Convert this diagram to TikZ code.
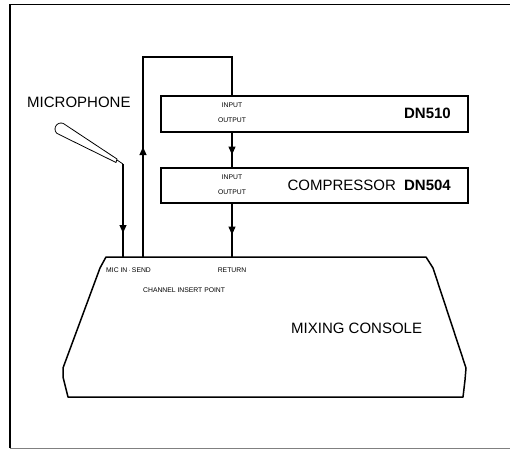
\documentclass[tikz,border=0pt]{standalone}
\usepackage{fontspec}
\setmainfont{Liberation Sans}
\usetikzlibrary{arrows.meta,decorations.markings,calc}
\begin{document}
\begin{tikzpicture}[x=1pt,y=-1pt,
  unitbox/.style={draw,line width=1.6pt,minimum width=307pt,inner sep=0pt,anchor=north west},
  big/.style={font=\fontsize{15}{17}\selectfont,inner sep=0pt},
  small/.style={font=\fontsize{6.8}{8}\selectfont,inner sep=0pt},
  wire/.style={line width=1.1pt},
  arrowat/.style={postaction={decorate,decoration={markings,mark=at position #1 with {\arrow{Triangle[width=7pt,length=8pt]}}}}}
]
\useasboundingbox (0,0) rectangle (510,449);
% frame
\draw[line width=1.8pt] (10,448) -- (10,4.5) -- (510,4.5);
\draw[line width=0.8pt,gray] (10,448) -- (510,448);

% units
\node[unitbox,minimum height=36pt] (dn510) at (160,95) {};
\node[unitbox,minimum height=35pt] (dn504) at (160,167) {};
\node[small] (in1) at (232,105) {INPUT};
\node[small] (out1) at (232,120) {OUTPUT};
\node[small] (in2) at (232,177) {INPUT};
\node[small] (out2) at (232,192) {OUTPUT};
\node[big,anchor=east] (n510) at (451,113) {\bfseries DN510};
\node[big,anchor=east] (n504) at (451,185) {COMPRESSOR\hspace{0.55em}\bfseries DN504};

% console
\draw[line width=1.5pt,line join=round] (106,257) -- (426,257) -- (433,268) -- (466,368) -- (465,380) -- (463,397)
  -- (68,397) -- (63,377) -- (63,368) -- (100,268) -- cycle;
\coordinate (micin) at (123,257);
\coordinate (send) at (143,257);
\coordinate (ret) at (232,257);
\coordinate (loop) at (232,57);
\node[small,anchor=west] (lmic) at (106,270) {MIC IN\,$\cdot$\,SEND};
\node[small] (lret) at (232,270) {RETURN};
\node[small,anchor=west] (lcip) at (143,290) {CHANNEL INSERT POINT};
\node[big,anchor=west] (lmix) at (291,328) {MIXING CONSOLE};

% microphone
\node[big,anchor=west] (lmicro) at (27,102) {MICROPHONE};
\coordinate (head) at (61,129);
\draw[line width=0.8pt,line join=round] (117,159) -- ($(head)+(-45:6)$)
  arc[start angle=-45,end angle=-260,radius=6] -- (116,162.5) -- cycle;
\coordinate (mictip) at (123,164);
\draw[line width=0.8pt] (117,160) -- (mictip);

% connectors
\draw[wire,arrowat=69pt] (mictip) -- (micin);
\draw[wire,arrowat=110pt] (send) |- (loop) -- (dn510.north -| loop);
\draw[wire,arrowat=22pt] (dn510.south -| loop) -- (dn504.north -| loop);
\draw[wire,arrowat=31pt] (dn504.south -| loop) -- (ret);
\end{tikzpicture}
\end{document}
